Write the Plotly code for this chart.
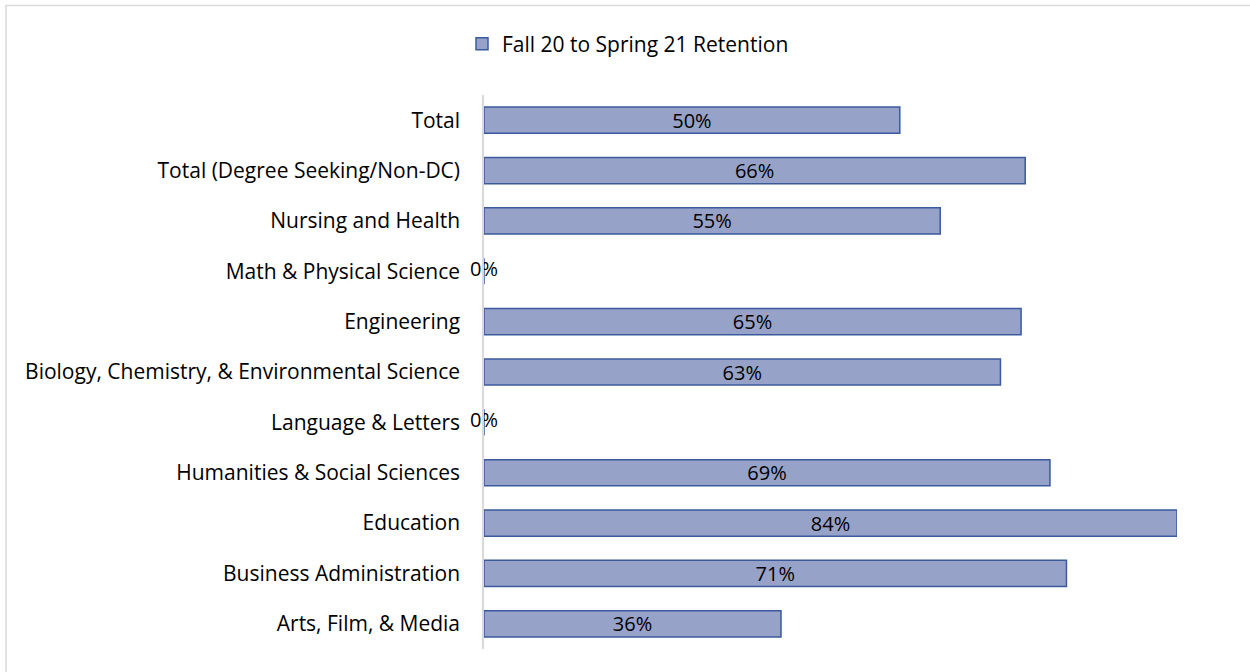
import plotly.graph_objects as go

categories = [
    "Total",
    "Total (Degree Seeking/Non-DC)",
    "Nursing and Health",
    "Math & Physical Science",
    "Engineering",
    "Biology, Chemistry, & Environmental Science",
    "Language & Letters",
    "Humanities & Social Sciences",
    "Education",
    "Business Administration",
    "Arts, Film, & Media",
]
retention = [0.504, 0.656, 0.553, 0.0, 0.651, 0.626, 0.0, 0.686, 0.84, 0.706, 0.36]
series_name = "Fall 20 to Spring 21 Retention"

FONT = "Open Sans"
FS = 21
W, H = 1250, 672
L, R, T, B = 484, 73, 95, 23

labels = [f"{v:.0%}" for v in retention]

fig = go.Figure()
fig.add_trace(go.Bar(
    y=categories, x=retention, orientation="h", name=series_name,
    marker=dict(color="#97A2C8", line=dict(color="#3A5A9C", width=1.5)),
    text=[t if v > 0 else "" for t, v in zip(labels, retention)],
    textposition="inside", insidetextanchor="middle", constraintext="none",
    textfont=dict(family=FONT, size=FS - 1, color="#000000"),
    hoverinfo="skip",
))
zero_cats = [c for c, v in zip(categories, retention) if v == 0]
zero_lbls = [t for t, v in zip(labels, retention) if v == 0]
fig.add_trace(go.Scatter(
    y=zero_cats, x=[0] * len(zero_cats), mode="text", text=zero_lbls,
    textposition="middle center", showlegend=False, cliponaxis=False,
    textfont=dict(family=FONT, size=FS - 1, color="#000000"), hoverinfo="skip",
))

pw = W - L - R
ph = H - T - B
fig.add_shape(type="rect", xref="paper", yref="paper",
              x0=(6 - L) / pw, x1=1.2, y0=-0.2, y1=(H - B - 5.5) / ph,
              line=dict(color="#D9D9D9", width=1.5), fillcolor="rgba(0,0,0,0)", layer="below")

fig.update_layout(
    width=W, height=H,
    margin=dict(l=L, r=R, t=T, b=B),
    paper_bgcolor="white", plot_bgcolor="white",
    bargap=0.48,
    font=dict(family=FONT, size=FS, color="#000000"),
    showlegend=True,
    legend=dict(orientation="h", xref="container", yref="container",
                x=0.5024, xanchor="center", y=1 - 44 / H, yanchor="middle",
                font=dict(family=FONT, size=FS, color="#000000")),
    xaxis=dict(range=[0, 0.84], visible=False, fixedrange=True),
    yaxis=dict(categoryorder="array", categoryarray=categories, autorange="reversed",
               showline=True, linecolor="#D9D9D9", linewidth=1.5,
               showgrid=False, ticks="", ticklabelstandoff=18, fixedrange=True,
               tickfont=dict(family=FONT, size=FS, color="#000000")),
)

fig.write_html("out.html", config={"displayModeBar": False},
               post_script="document.body.style.margin='0';")
